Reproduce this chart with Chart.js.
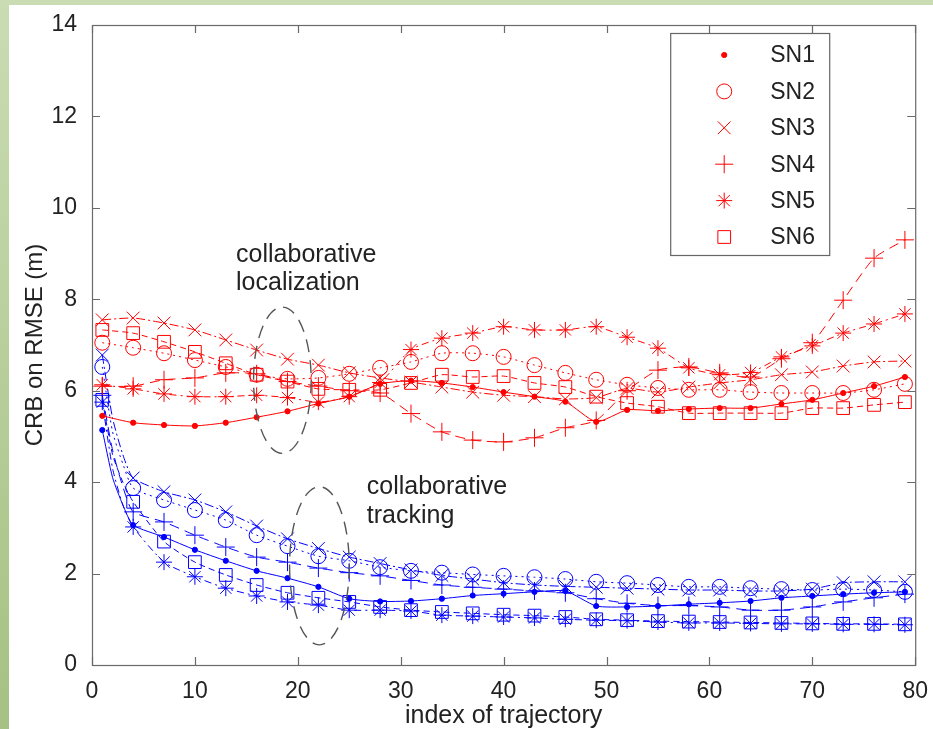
<!DOCTYPE html>
<html>
<head>
<meta charset="utf-8">
<script src="https://cdn.jsdelivr.net/npm/chart.js@4.4.1/dist/chart.umd.min.js"></script>
<style>
  html, body { margin: 0; padding: 0; background: #fff; }
  #crbChart { display: block; }
</style>
</head>
<body>
<canvas id="crbChart" width="933" height="729"></canvas>
<script>
// series names
const sensorNames = ['SN1', 'SN2', 'SN3', 'SN4', 'SN5', 'SN6'];

// trajectory indices where the values were read
const tRed = [1, 4, 7, 10, 13, 16, 19, 22, 25, 28, 31, 34, 37, 40, 43, 46, 49, 52, 55, 58, 61, 64, 67, 70, 73, 76, 79];
const tBlue = [1, 2, 3, 4, 7, 10, 13, 16, 19, 22, 25, 28, 31, 34, 37, 40, 43, 46, 49, 52, 55, 58, 61, 64, 67, 70, 73, 76, 79];
const noMarkerAt = [2, 3];

// localization (red)
const locSN1 = [5.45, 5.3, 5.25, 5.23, 5.3, 5.42, 5.55, 5.72, 5.87, 6.15, 6.22, 6.17, 6.08, 5.97, 5.87, 5.76, 5.32, 5.58, 5.56, 5.6, 5.62, 5.62, 5.71, 5.8, 5.95, 6.1, 6.3];
const locSN2 = [7.05, 6.94, 6.82, 6.67, 6.52, 6.35, 6.26, 6.28, 6.37, 6.5, 6.63, 6.82, 6.82, 6.74, 6.56, 6.39, 6.24, 6.13, 6.06, 6.02, 6.02, 5.97, 5.95, 5.95, 5.95, 6.02, 6.15];
const locSN3 = [7.55, 7.59, 7.48, 7.33, 7.11, 6.89, 6.69, 6.56, 6.39, 6.28, 6.19, 6.08, 5.97, 5.9, 5.87, 5.82, 5.85, 6.05, 5.97, 6.08, 6.17, 6.24, 6.35, 6.41, 6.54, 6.63, 6.65];
const locSN4 = [6.1, 6.1, 6.24, 6.28, 6.39, 6.37, 6.2, 6.1, 6.0, 5.95, 5.5, 5.1, 4.92, 4.88, 4.97, 5.19, 5.35, 6.0, 6.45, 6.52, 6.39, 6.3, 6.7, 7.05, 7.98, 8.9, 9.3];
const locSN5 = [6.13, 6.04, 5.93, 5.87, 5.87, 5.9, 5.85, 5.75, 5.87, 6.18, 6.9, 7.15, 7.26, 7.4, 7.33, 7.33, 7.4, 7.17, 6.93, 6.5, 6.35, 6.4, 6.74, 6.98, 7.26, 7.46, 7.68];
const locSN6 = [7.33, 7.26, 7.07, 6.85, 6.6, 6.35, 6.2, 6.04, 6.02, 6.02, 6.17, 6.35, 6.3, 6.32, 6.17, 6.08, 5.87, 5.73, 5.65, 5.51, 5.51, 5.51, 5.51, 5.62, 5.62, 5.69, 5.75];

// tracking (blue)
const trkSN1 = [5.14, 4.1, 3.5, 3.06, 2.8, 2.52, 2.28, 2.06, 1.9, 1.71, 1.45, 1.39, 1.4, 1.45, 1.52, 1.56, 1.6, 1.62, 1.29, 1.27, 1.29, 1.33, 1.36, 1.4, 1.47, 1.51, 1.55, 1.58, 1.6];
const trkSN2 = [6.52, 5.1, 4.4, 3.87, 3.61, 3.39, 3.17, 2.84, 2.6, 2.38, 2.28, 2.14, 2.06, 2.02, 1.98, 1.95, 1.92, 1.88, 1.82, 1.79, 1.75, 1.71, 1.71, 1.68, 1.66, 1.64, 1.66, 1.64, 1.6];
const trkSN3 = [6.78, 5.4, 4.6, 4.09, 3.79, 3.61, 3.35, 3.04, 2.76, 2.55, 2.36, 2.22, 2.08, 1.96, 1.88, 1.8, 1.75, 1.72, 1.7, 1.68, 1.66, 1.64, 1.64, 1.62, 1.62, 1.66, 1.8, 1.82, 1.82];
const trkSN4 = [5.9, 4.7, 3.9, 3.35, 3.13, 2.84, 2.58, 2.36, 2.25, 2.12, 2.02, 1.95, 1.85, 1.75, 1.7, 1.66, 1.62, 1.58, 1.45, 1.35, 1.3, 1.3, 1.27, 1.2, 1.2, 1.27, 1.38, 1.47, 1.55];
const trkSN5 = [5.75, 4.3, 3.5, 3.02, 2.25, 1.93, 1.68, 1.51, 1.38, 1.31, 1.2, 1.2, 1.18, 1.09, 1.07, 1.05, 1.03, 1.0, 0.98, 0.97, 0.94, 0.92, 0.92, 0.91, 0.9, 0.9, 0.89, 0.89, 0.88];
const trkSN6 = [5.8, 4.6, 4.0, 3.57, 2.7, 2.25, 1.97, 1.75, 1.58, 1.47, 1.38, 1.27, 1.2, 1.16, 1.13, 1.1, 1.08, 1.05, 1.0, 0.98, 0.96, 0.95, 0.94, 0.93, 0.92, 0.91, 0.9, 0.9, 0.89];

// axes
const xTicks = [0, 10, 20, 30, 40, 50, 60, 70, 80];
const yTicks = [0, 2, 4, 6, 8, 10, 12, 14];
const xTitle = 'index of trajectory';
const yTitle = 'CRB on RMSE (m)';

// annotations: [text lines, left x, line y values], ellipse [cx, cy, rx, ry] in data units
const notes = [
  { lines: ['collaborative', 'localization'], x: 14, ys: [8.97, 8.36], ellipse: [18.5, 6.23, 2.8, 1.6] },
  { lines: ['collaborative', 'tracking'], x: 26.7, ys: [3.89, 3.26], ellipse: [22.1, 2.17, 2.9, 1.73] }
];

// marker / line style per sensor
const looks = [
  { style: 'circle', r: 2.6, fill: true, dash: [] },
  { style: 'circle', r: 7.5, fill: false, dash: [2, 4] },
  { style: 'crossRot', r: 9, fill: false, dash: [9, 3, 2, 3] },
  { style: 'cross', r: 9, fill: false, dash: [10, 6] },
  { style: 'star', r: 8, fill: false, dash: [7, 4, 2, 4] },
  { style: 'rect', r: 9, fill: false, dash: [6, 4] }
];

const RED = '#ff0000';
const BLUE = '#0000ff';
const FONT = "'Liberation Sans', Arial, sans-serif";
const INK = '#222';

function makeSet(xs, ys, look, color) {
  return {
    data: xs.map((x, i) => ({ x: x, y: ys[i] })),
    borderColor: color,
    borderWidth: 1,
    borderDash: look.dash,
    tension: 0.2,
    pointStyle: look.style,
    pointRadius: c => (c.raw && noMarkerAt.includes(c.raw.x) && xs === tBlue) ? 0 : look.r,
    pointBorderColor: color,
    pointBackgroundColor: look.fill ? color : 'rgba(0,0,0,0)',
    pointBorderWidth: 1
  };
}

const locSets = [locSN1, locSN2, locSN3, locSN4, locSN5, locSN6];
const trkSets = [trkSN1, trkSN2, trkSN3, trkSN4, trkSN5, trkSN6];
const datasets = [];
locSets.forEach((ys, i) => datasets.push(Object.assign({ label: sensorNames[i] }, makeSet(tRed, ys, looks[i], RED))));
trkSets.forEach((ys, i) => datasets.push(Object.assign({ label: sensorNames[i] + ' tracking' }, makeSet(tBlue, ys, looks[i], BLUE))));

const pagePlugin = {
  id: 'page',
  beforeDraw(chart) {
    const c = chart.ctx;
    const g = c.createLinearGradient(0, 0, 0, chart.height);
    g.addColorStop(0, '#cadcb3');
    g.addColorStop(1, '#a5c183');
    c.save();
    c.fillStyle = g;
    c.fillRect(0, 0, chart.width, chart.height);
    c.fillStyle = '#ffffff';
    c.fillRect(9, 5, chart.width - 9, chart.height - 5);
    c.restore();
  }
};

const framePlugin = {
  id: 'frame',
  afterDatasetsDraw(chart) {
    const c = chart.ctx;
    const a = chart.chartArea;
    const xs = chart.scales.x, ys = chart.scales.y;
    c.save();
    c.strokeStyle = '#6a6a6a';
    c.lineWidth = 1.2;
    c.strokeRect(a.left + 0.5, a.top + 0.5, a.right - a.left, a.bottom - a.top);
    c.beginPath();
    xTicks.forEach(v => {
      const px = Math.round(xs.getPixelForValue(v)) + 0.5;
      c.moveTo(px, a.bottom); c.lineTo(px, a.bottom - 8);
      c.moveTo(px, a.top); c.lineTo(px, a.top + 8);
    });
    yTicks.forEach(v => {
      const py = Math.round(ys.getPixelForValue(v)) + 0.5;
      c.moveTo(a.left, py); c.lineTo(a.left + 8, py);
      c.moveTo(a.right, py); c.lineTo(a.right - 8, py);
    });
    c.stroke();

    // annotations
    c.setLineDash([13, 8]);
    c.strokeStyle = '#555';
    c.lineWidth = 1.4;
    notes.forEach(n => {
      const [cx, cy, rx, ry] = n.ellipse;
      const pcx = xs.getPixelForValue(cx), pcy = ys.getPixelForValue(cy);
      const prx = xs.getPixelForValue(cx + rx) - pcx;
      const pry = pcy - ys.getPixelForValue(cy + ry);
      c.beginPath();
      c.ellipse(pcx, pcy, prx, pry, 0, 0, Math.PI * 2);
      c.stroke();
    });
    c.setLineDash([]);
    c.fillStyle = INK;
    c.font = '25px ' + FONT;
    c.textAlign = 'left';
    c.textBaseline = 'middle';
    notes.forEach(n => {
      n.lines.forEach((t, i) => c.fillText(t, xs.getPixelForValue(n.x), ys.getPixelForValue(n.ys[i])));
    });

    // legend box
    const bx = a.right - 245, by = a.top + 8, bw = 159, bh = 222;
    c.fillStyle = '#ffffff';
    c.fillRect(bx, by, bw, bh);
    c.strokeStyle = '#666';
    c.lineWidth = 1.2;
    c.strokeRect(bx + 0.5, by + 0.5, bw, bh);
    c.font = '23px ' + FONT;
    c.fillStyle = INK;
    sensorNames.forEach((name, i) => {
      const rowY = by + 22 + i * 36.4;
      const look = looks[i];
      c.strokeStyle = RED;
      c.fillStyle = look.fill ? RED : 'rgba(0,0,0,0)';
      c.lineWidth = 1;
      Chart.helpers.drawPoint(c, { pointStyle: look.style, radius: look.r, rotation: 0, borderWidth: 1 }, bx + 54, rowY);
      c.fillStyle = INK;
      c.fillText(name, bx + 100, rowY + 1);
    });
    c.restore();
  }
};

new Chart(document.getElementById('crbChart').getContext('2d'), {
  type: 'line',
  data: { datasets: datasets },
  options: {
    responsive: false,
    animation: false,
    devicePixelRatio: 1,
    layout: { padding: { top: 25, right: 17, left: 0, bottom: 0 } },
    plugins: { legend: { display: false }, tooltip: { enabled: false } },
    scales: {
      x: {
        type: 'linear', min: 0, max: 80,
        grid: { display: false }, border: { display: false },
        afterBuildTicks: s => { s.ticks = xTicks.map(v => ({ value: v })); },
        ticks: { padding: 5, color: INK, font: { family: FONT, size: 23 }, maxRotation: 0, autoSkip: false },
        title: { display: true, text: xTitle, color: INK, font: { family: FONT, size: 25, lineHeight: 1.0 }, padding: { top: 0, bottom: 0 } },
        afterFit: s => { s.height = 64; }
      },
      y: {
        type: 'linear', min: 0, max: 14,
        grid: { display: false }, border: { display: false },
        afterBuildTicks: s => { s.ticks = yTicks.map(v => ({ value: v })); },
        ticks: { padding: 7, color: INK, font: { family: FONT, size: 23 }, autoSkip: false },
        title: { display: true, text: yTitle, color: INK, font: { family: FONT, size: 24 }, padding: { top: 21, bottom: 0 } },
        afterFit: s => { s.width = 92; }
      }
    }
  },
  plugins: [pagePlugin, framePlugin]
});
</script>
</body>
</html>
